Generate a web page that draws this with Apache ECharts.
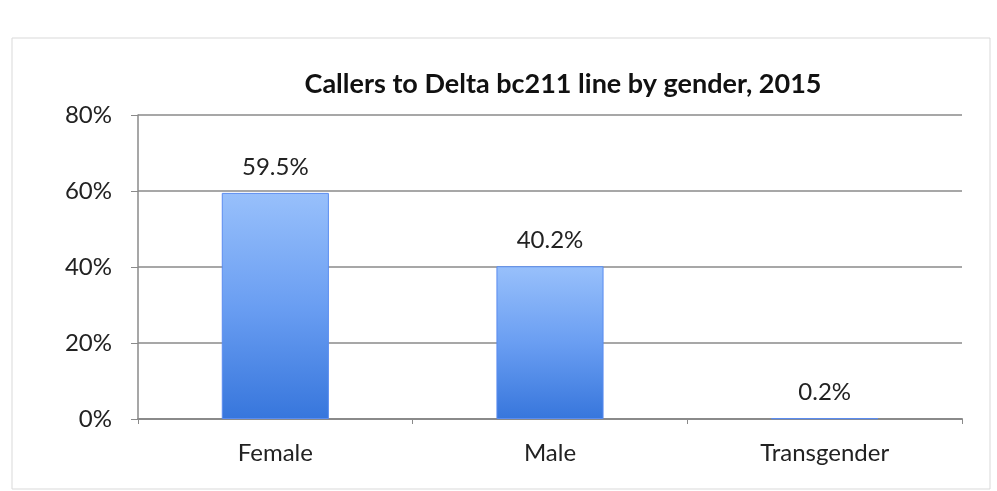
<!DOCTYPE html>
<html>
<head>
<meta charset="utf-8">
<script src="https://cdn.jsdelivr.net/npm/echarts@6/dist/echarts.min.js"></script>
<style>
html,body{margin:0;padding:0;background:#fff;}
#chart{width:997px;height:491px;}
</style>
</head>
<body>
<div id="chart"></div>
<script>
var title = "Callers to Delta bc211 line by gender, 2015";
var categories = ["Female", "Male", "Transgender"];
var values = [59.5, 40.2, 0.2];
var yTicks = [0, 20, 40, 60, 80];

var chart = echarts.init(document.getElementById('chart'), null, {renderer: 'canvas'});
var font = "Lato, 'Open Sans', sans-serif";
chart.setOption({
  animation: false,
  backgroundColor: '#ffffff',
  title: {
    text: title,
    left: 558, top: 66, textAlign: 'center',
    textStyle: {fontFamily: font, fontSize: 27, fontWeight: 'bold', color: '#111'}
  },
  graphic: [{
    type: 'rect', silent: true,
    shape: {x: 12, y: 38, width: 978, height: 451},
    style: {fill: 'none', stroke: '#d9d9d9', lineWidth: 1}
  }],
  grid: {left: 138, right: 35, top: 115, bottom: 72, containLabel: false},
  xAxis: {
    type: 'category',
    data: categories,
    axisLine: {lineStyle: {color: '#8a8a8a', width: 2}},
    axisTick: {show: true, alignWithLabel: false, length: 5, lineStyle: {color: '#8a8a8a'}},
    axisLabel: {fontFamily: font, fontSize: 24, color: '#222', margin: 22}
  },
  yAxis: {
    type: 'value',
    min: yTicks[0], max: yTicks[yTicks.length - 1], interval: 20,
    axisLine: {show: true, lineStyle: {color: '#8a8a8a', width: 1.5}},
    axisTick: {show: true, length: 7, lineStyle: {color: '#8a8a8a'}},
    splitLine: {lineStyle: {color: '#8a8a8a', width: 1.5}},
    axisLabel: {fontFamily: font, fontSize: 24, color: '#222', margin: 26, formatter: '{value}%'}
  },
  series: [{
    type: 'bar',
    data: values,
    barWidth: '39%',
    itemStyle: {
      color: {
        type: 'linear', x: 0, y: 0, x2: 0, y2: 1,
        colorStops: [
          {offset: 0, color: '#98c0fb'},
          {offset: 0.5, color: '#6a9ef2'},
          {offset: 1, color: '#3776dc'}
        ]
      },
      borderColor: '#5a8cf0', borderWidth: 1
    },
    label: {
      show: true, position: 'top', distance: 14,
      fontFamily: font, fontSize: 24, color: '#222',
      formatter: function (p) { return p.value.toFixed(1) + '%'; }
    }
  }]
});
</script>
</body>
</html>
